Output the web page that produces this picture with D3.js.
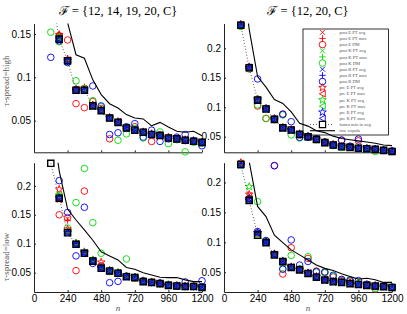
<!DOCTYPE html>
<html>
<head>
<meta charset="utf-8">
<script src="https://cdn.jsdelivr.net/npm/d3@7"></script>
<style>
  body { margin: 0; background: #fff; }
  .tick text { font-family: "Liberation Sans", Arial, sans-serif; font-size: 10px; fill: #000; }
  .domain, .tick line { stroke: #222; }
</style>
</head>
<body>
<div id="chart"></div>
<script>
// sample sizes, ticks and labels
var nValues = [120,180,240,300,360,420,480,540,600,660,720,780,840,900,960,1020,1080,1140,1200];
var xTicks = [0,240,480,720,960,1200];
var yTicksHiA = [0.05,0.1,0.15];
var yTicksRest = [0.05,0.1,0.15,0.2];
var titles = ["\u2131 = {12, 14, 19, 20, C}", "\u2131 = {12, 20, C}"];
var rowLabels = ["\u03c4-spread=high", "\u03c4-spread=low"];
var legendLabels = ["post E PT avg","post E PT max","post E DM","post K PT avg","post K PT max","post K DM",
  "post R PT avg","post R PT max","post R DM","pre E PT avg","pre E PT max","pre K PT avg","pre K PT max",
  "pre R PT avg","pre R PT max","homo min in avg","true copula"];

// ---- tau-spread high, F = {12,14,19,20,C}
var hiA_homo    = [0.200,0.144,0.119,0.085,0.085,0.067,0.0615,0.053,0.048,0.0416,0.0389,0.0366,0.034,0.0328,0.030,0.029,0.0274,0.0262,0.025];
var hiA_true    = [0.300,0.220,0.163,0.126,0.122,0.097,0.080,0.0695,0.0645,0.057,0.053,0.052,0.044,0.048,0.0427,0.0377,0.0366,0.0377,0.0327];
var hiA_ePTavg  = [0.190,0.148,0.120,0.086,0.088,0.068,0.062,0.054,0.049,0.042,0.039,0.037,0.034,0.033,0.030,0.029,0.028,0.026,0.025];
var hiA_ePTmax  = [0.210,0.150,0.122,0.087,0.089,0.069,0.063,0.054,0.049,0.043,0.040,0.037,0.035,0.033,0.031,0.029,0.028,0.027,0.025];
var hiA_eDM     = [0.175,0.148,0.143,0.0696,0.065,0.072,0.064,0.029,0.048,0.041,0.043,0.037,0.026,0.034,0.030,0.029,0.027,0.026,0.025];
var hiA_kPTavg  = [0.190,0.146,0.118,0.084,0.086,0.068,0.061,0.053,0.048,0.041,0.039,0.036,0.034,0.033,0.030,0.029,0.027,0.026,0.025];
var hiA_kPTmax  = [0.200,0.147,0.119,0.085,0.087,0.068,0.062,0.054,0.048,0.042,0.039,0.037,0.034,0.033,0.030,0.029,0.027,0.026,0.025];
var hiA_kDM     = [0.152,0.141,0.118,0.096,0.087,0.073,0.066,0.053,0.0274,0.0347,0.041,0.030,0.034,0.037,0.0235,0.028,0.014,0.025,0.024];
var hiA_rPTavg  = [0.190,0.143,0.117,0.084,0.084,0.066,0.061,0.053,0.048,0.041,0.038,0.036,0.034,0.032,0.030,0.029,0.027,0.026,0.025];
var hiA_rPTmax  = [0.200,0.145,0.118,0.085,0.085,0.067,0.062,0.053,0.048,0.042,0.039,0.037,0.034,0.033,0.030,0.029,0.027,0.026,0.025];
var hiA_rDM     = [0.123,0.142,0.117,0.086,0.085,0.090,0.067,0.034,0.036,0.043,0.0465,0.031,0.039,0.026,0.029,0.031,0.034,0.027,0.021];
var hiA_preEavg = [0.200,0.149,0.121,0.086,0.087,0.068,0.062,0.054,0.049,0.042,0.039,0.037,0.035,0.033,0.031,0.029,0.028,0.027,0.025];
var hiA_preEmax = [0.210,0.147,0.120,0.086,0.086,0.068,0.062,0.053,0.049,0.042,0.039,0.037,0.034,0.033,0.030,0.029,0.028,0.026,0.025];
var hiA_preKavg = [0.200,0.146,0.119,0.085,0.086,0.067,0.062,0.053,0.048,0.042,0.039,0.037,0.034,0.033,0.030,0.029,0.027,0.026,0.025];
var hiA_preKmax = [0.200,0.145,0.119,0.085,0.086,0.067,0.061,0.053,0.048,0.042,0.039,0.036,0.034,0.033,0.030,0.029,0.027,0.026,0.025];
var hiA_preRavg = [0.200,0.144,0.119,0.085,0.085,0.067,0.0615,0.053,0.048,0.0416,0.0389,0.0366,0.034,0.0328,0.030,0.029,0.0274,0.0262,0.025];
var hiA_preRmax = [0.200,0.144,0.119,0.085,0.085,0.067,0.061,0.053,0.048,0.042,0.039,0.0366,0.034,0.033,0.030,0.029,0.0274,0.026,0.025];

// ---- tau-spread high, F = {12,20,C}
var hiB_homo    = [0.239,0.167,0.112,0.097,0.0795,0.065,0.0614,0.054,0.050,0.0455,0.040,0.036,0.033,0.032,0.0305,0.0297,0.0285,0.0268,0.025];
var hiB_true    = [0.350,0.232,0.152,0.134,0.113,0.1065,0.092,0.0727,0.068,0.060,0.057,0.051,0.047,0.045,0.043,0.041,0.039,0.036,0.035];
var hiB_ePTavg  = [0.241,0.169,0.114,0.098,0.081,0.066,0.062,0.055,0.051,0.046,0.041,0.037,0.034,0.032,0.031,0.030,0.029,0.027,0.025];
var hiB_ePTmax  = [0.240,0.170,0.115,0.099,0.081,0.066,0.062,0.055,0.051,0.046,0.041,0.037,0.034,0.033,0.031,0.030,0.029,0.027,0.026];
var hiB_eDM     = [0.238,0.165,0.102,0.081,0.080,0.0885,0.062,0.053,0.050,0.046,0.040,0.037,0.0445,0.033,0.043,0.030,0.028,0.027,0.025];
var hiB_kPTavg  = [0.239,0.168,0.113,0.097,0.080,0.065,0.061,0.054,0.050,0.045,0.040,0.036,0.033,0.032,0.030,0.030,0.028,0.027,0.025];
var hiB_kPTmax  = [0.240,0.168,0.113,0.098,0.080,0.066,0.062,0.054,0.050,0.046,0.040,0.036,0.033,0.032,0.031,0.030,0.028,0.027,0.025];
var hiB_kDM     = [0.237,0.166,0.104,0.081,0.079,0.087,0.053,0.048,0.051,0.045,0.041,0.035,0.032,0.033,0.030,0.029,0.025,0.027,0.025];
var hiB_rPTavg  = [0.239,0.167,0.112,0.097,0.080,0.065,0.061,0.054,0.050,0.045,0.040,0.036,0.033,0.032,0.030,0.030,0.028,0.027,0.025];
var hiB_rPTmax  = [0.240,0.168,0.113,0.097,0.080,0.065,0.062,0.054,0.050,0.046,0.040,0.036,0.033,0.032,0.031,0.030,0.029,0.027,0.025];
var hiB_rDM     = [0.240,0.168,0.148,0.098,0.080,0.088,0.0755,0.049,0.049,0.046,0.041,0.036,0.044,0.034,0.046,0.030,0.029,0.027,0.026];
var hiB_preEavg = [0.241,0.168,0.114,0.098,0.081,0.066,0.062,0.055,0.051,0.046,0.041,0.037,0.034,0.033,0.031,0.030,0.029,0.027,0.026];
var hiB_preEmax = [0.240,0.168,0.113,0.098,0.080,0.066,0.062,0.054,0.050,0.046,0.040,0.036,0.033,0.032,0.031,0.030,0.029,0.027,0.025];
var hiB_preKavg = [0.240,0.167,0.113,0.097,0.080,0.065,0.061,0.054,0.050,0.045,0.040,0.036,0.033,0.032,0.030,0.030,0.028,0.027,0.025];
var hiB_preKmax = [0.239,0.167,0.112,0.097,0.080,0.065,0.061,0.054,0.050,0.045,0.040,0.036,0.033,0.032,0.030,0.030,0.028,0.027,0.025];
var hiB_preRavg = [0.239,0.167,0.112,0.097,0.0795,0.065,0.0614,0.054,0.050,0.0455,0.040,0.036,0.033,0.032,0.0305,0.0297,0.0285,0.0268,0.025];
var hiB_preRmax = [0.239,0.167,0.112,0.097,0.0795,0.065,0.061,0.054,0.050,0.0455,0.040,0.036,0.033,0.032,0.0305,0.0297,0.0285,0.0268,0.025];

// ---- tau-spread low, F = {12,14,19,20,C}
var loA_homo    = [0.239,0.1787,0.119,0.099,0.0835,0.070,0.0576,0.053,0.049,0.043,0.0415,0.0345,0.033,0.031,0.028,0.027,0.026,0.026,0.0245];
var loA_true    = [0.330,0.226,0.160,0.141,0.124,0.106,0.086,0.079,0.072,0.059,0.056,0.050,0.046,0.042,0.0415,0.0415,0.0375,0.0345,0.0345];
var loA_ePTavg  = [0.26,0.175,0.143,0.101,0.085,0.071,0.059,0.054,0.050,0.044,0.042,0.035,0.034,0.032,0.029,0.028,0.027,0.026,0.025];
var loA_ePTmax  = [0.27,0.178,0.140,0.100,0.086,0.071,0.060,0.054,0.050,0.044,0.042,0.035,0.034,0.032,0.029,0.028,0.027,0.026,0.025];
var loA_eDM     = [0.26,0.150,0.145,0.0535,0.191,0.070,0.062,0.052,0.049,0.044,0.041,0.035,0.034,0.031,0.029,0.027,0.026,0.027,0.025];
var loA_kPTavg  = [0.26,0.183,0.121,0.101,0.086,0.072,0.059,0.054,0.050,0.044,0.042,0.035,0.033,0.031,0.029,0.027,0.026,0.026,0.025];
var loA_kPTmax  = [0.27,0.182,0.122,0.100,0.085,0.073,0.058,0.054,0.050,0.044,0.042,0.035,0.033,0.031,0.029,0.027,0.026,0.026,0.025];
var loA_kDM     = [0.26,0.180,0.127,0.171,0.230,0.1365,0.0835,0.053,0.050,0.0737,0.042,0.035,0.033,0.031,0.029,0.027,0.026,0.026,0.025];
var loA_rPTavg  = [0.26,0.180,0.120,0.100,0.084,0.070,0.058,0.053,0.049,0.043,0.042,0.035,0.033,0.031,0.028,0.027,0.026,0.026,0.025];
var loA_rPTmax  = [0.27,0.181,0.121,0.100,0.085,0.071,0.059,0.054,0.050,0.044,0.042,0.035,0.033,0.031,0.029,0.027,0.026,0.026,0.025];
var loA_rDM     = [0.26,0.209,0.154,0.079,0.163,0.066,0.060,0.0327,0.035,0.044,0.042,0.036,0.033,0.032,0.028,0.027,0.034,0.026,0.036];
var loA_preEavg = [0.26,0.194,0.125,0.101,0.086,0.072,0.068,0.054,0.050,0.044,0.042,0.036,0.034,0.032,0.029,0.028,0.027,0.027,0.025];
var loA_preEmax = [0.26,0.176,0.122,0.100,0.085,0.071,0.060,0.054,0.050,0.044,0.042,0.035,0.034,0.031,0.029,0.028,0.027,0.026,0.025];
var loA_preKavg = [0.26,0.184,0.121,0.101,0.085,0.072,0.059,0.054,0.050,0.044,0.042,0.035,0.033,0.031,0.029,0.027,0.026,0.026,0.025];
var loA_preKmax = [0.26,0.179,0.120,0.100,0.084,0.071,0.058,0.053,0.049,0.043,0.042,0.035,0.033,0.031,0.028,0.027,0.026,0.026,0.025];
var loA_preRavg = [0.26,0.179,0.119,0.099,0.084,0.070,0.058,0.053,0.049,0.043,0.0415,0.0345,0.033,0.031,0.028,0.027,0.026,0.026,0.0245];
var loA_preRmax = [0.26,0.1787,0.119,0.099,0.0835,0.070,0.0576,0.053,0.049,0.043,0.0415,0.0345,0.033,0.031,0.028,0.027,0.026,0.026,0.0245];

// ---- tau-spread low, F = {12,20,C}
var loB_homo    = [0.230,0.170,0.112,0.0995,0.079,0.0678,0.058,0.054,0.048,0.0417,0.037,0.034,0.033,0.031,0.0295,0.028,0.027,0.026,0.0245];
var loB_true    = [0.350,0.235,0.160,0.143,0.112,0.0995,0.0873,0.079,0.0705,0.062,0.0565,0.053,0.0475,0.043,0.0385,0.040,0.0375,0.033,0.033];
var loB_ePTavg  = [0.232,0.180,0.117,0.101,0.080,0.069,0.059,0.055,0.049,0.042,0.038,0.035,0.034,0.032,0.030,0.029,0.028,0.027,0.025];
var loB_ePTmax  = [0.233,0.176,0.116,0.101,0.081,0.069,0.059,0.055,0.049,0.043,0.038,0.035,0.034,0.032,0.030,0.029,0.028,0.027,0.025];
var loB_eDM     = [0.232,0.172,0.115,0.100,0.228,0.047,0.091,0.055,0.073,0.052,0.050,0.042,0.036,0.035,0.030,0.029,0.022,0.027,0.024];
var loB_kPTavg  = [0.231,0.175,0.114,0.100,0.080,0.068,0.059,0.054,0.049,0.042,0.038,0.035,0.033,0.031,0.030,0.028,0.027,0.026,0.025];
var loB_kPTmax  = [0.231,0.174,0.115,0.101,0.080,0.068,0.059,0.054,0.049,0.042,0.038,0.035,0.033,0.031,0.030,0.028,0.027,0.026,0.025];
var loB_kDM     = [0.229,0.171,0.168,0.102,0.080,0.056,0.078,0.056,0.076,0.050,0.049,0.043,0.038,0.036,0.031,0.029,0.023,0.026,0.025];
var loB_rPTavg  = [0.230,0.172,0.116,0.100,0.080,0.068,0.058,0.054,0.048,0.042,0.037,0.034,0.033,0.031,0.030,0.028,0.027,0.026,0.025];
var loB_rPTmax  = [0.230,0.173,0.117,0.101,0.080,0.068,0.059,0.054,0.049,0.042,0.038,0.035,0.033,0.031,0.030,0.028,0.027,0.026,0.025];
var loB_rDM     = [0.231,0.173,0.118,0.103,0.228,0.055,0.104,0.062,0.068,0.051,0.0505,0.045,0.038,0.037,0.036,0.030,0.026,0.027,0.025];
var loB_preEavg = [0.233,0.180,0.116,0.101,0.081,0.069,0.059,0.055,0.049,0.043,0.038,0.035,0.034,0.032,0.030,0.029,0.028,0.027,0.025];
var loB_preEmax = [0.232,0.174,0.115,0.100,0.080,0.068,0.059,0.054,0.049,0.042,0.038,0.035,0.033,0.031,0.030,0.028,0.027,0.026,0.025];
var loB_preKavg = [0.231,0.193,0.115,0.100,0.080,0.068,0.058,0.054,0.048,0.042,0.037,0.034,0.033,0.031,0.030,0.028,0.027,0.026,0.025];
var loB_preKmax = [0.230,0.172,0.114,0.100,0.079,0.068,0.058,0.054,0.048,0.042,0.037,0.034,0.033,0.031,0.0295,0.028,0.027,0.026,0.025];
var loB_preRavg = [0.229,0.172,0.116,0.101,0.080,0.068,0.058,0.054,0.048,0.0417,0.037,0.034,0.033,0.031,0.0295,0.028,0.027,0.026,0.0245];
var loB_preRmax = [0.230,0.171,0.115,0.100,0.079,0.0678,0.058,0.054,0.048,0.0417,0.037,0.034,0.033,0.031,0.0295,0.028,0.027,0.026,0.0245];

// marker style for each legend entry (same order as the series lists below)
var styles = [
  {c:"#f00", m:"x"}, {c:"#f00", m:"+"}, {c:"#f00", m:"o"},
  {c:"#0d0", m:"x"}, {c:"#0d0", m:"+"}, {c:"#0d0", m:"o"},
  {c:"#00f", m:"x"}, {c:"#00f", m:"+"}, {c:"#00f", m:"o"},
  {c:"#f00", m:"p"}, {c:"#f00", m:"<"},
  {c:"#0d0", m:"p"}, {c:"#0d0", m:"<"},
  {c:"#00f", m:"p"}, {c:"#00f", m:"<"}
];

var panels = [
  {series:[hiA_ePTavg,hiA_ePTmax,hiA_eDM,hiA_kPTavg,hiA_kPTmax,hiA_kDM,hiA_rPTavg,hiA_rPTmax,hiA_rDM,
           hiA_preEavg,hiA_preEmax,hiA_preKavg,hiA_preKmax,hiA_preRavg,hiA_preRmax],
   homo:hiA_homo, truth:hiA_true, xr:[34,202], yr:[23.5,152.3], yd:[0.0135,0.162], yt:yTicksHiA, labels:false},
  {series:[hiB_ePTavg,hiB_ePTmax,hiB_eDM,hiB_kPTavg,hiB_kPTmax,hiB_kDM,hiB_rPTavg,hiB_rPTmax,hiB_rDM,
           hiB_preEavg,hiB_preEmax,hiB_preKavg,hiB_preKmax,hiB_preRavg,hiB_preRmax],
   homo:hiB_homo, truth:hiB_true, xr:[224,392], yr:[23.5,152.3], yd:[0.0236,0.242], yt:yTicksRest, labels:false},
  {series:[loA_ePTavg,loA_ePTmax,loA_eDM,loA_kPTavg,loA_kPTmax,loA_kDM,loA_rPTavg,loA_rPTmax,loA_rDM,
           loA_preEavg,loA_preEmax,loA_preKavg,loA_preKmax,loA_preRavg,loA_preRmax],
   homo:loA_homo, truth:loA_true, xr:[34,202], yr:[162.7,292], yd:[0.0166,0.240], yt:yTicksRest, labels:true},
  {series:[loB_ePTavg,loB_ePTmax,loB_eDM,loB_kPTavg,loB_kPTmax,loB_kDM,loB_rPTavg,loB_rPTmax,loB_rDM,
           loB_preEavg,loB_preEmax,loB_preKavg,loB_preKmax,loB_preRavg,loB_preRmax],
   homo:loB_homo, truth:loB_true, xr:[224,392], yr:[162.7,292], yd:[0.017,0.233], yt:yTicksRest, labels:true}
];

// marker outlines, like matlab's x + o p < s
function markerPath(m) {
  if (m == "x") return "M-2.5,-2.5L2.5,2.5M-2.5,2.5L2.5,-2.5";
  if (m == "+") return "M-3.2,0L3.2,0M0,-3.2L0,3.2";
  if (m == "o") return "M3.3,0A3.3,3.3 0 1,1 -3.3,0A3.3,3.3 0 1,1 3.3,0Z";
  if (m == "<") return "M-3.2,0L2.8,-3.2L2.8,3.2Z";
  if (m == "s") return "M-3.1,-3.1H3.1V3.1H-3.1Z";
  // pentagram
  var pts = [];
  for (var i = 0; i < 10; i++) {
    var r = i % 2 ? 1.6 : 4.0, a = -Math.PI / 2 + i * Math.PI / 5;
    pts.push((r * Math.cos(a)).toFixed(2) + "," + (r * Math.sin(a)).toFixed(2));
  }
  return "M" + pts.join("L") + "Z";
}

var svg = d3.select("#chart").append("svg")
    .attr("width", 407)
    .attr("height", 314);

panels.forEach(function(p, i) {
  var x = d3.scaleLinear().domain([0, 1200]).range(p.xr);
  var y = d3.scaleLinear().domain(p.yd).range([p.yr[1], p.yr[0]]);
  var g = svg.append("g");

  svg.append("clipPath").attr("id", "clip" + i)
    .append("rect")
      .attr("x", p.xr[0]).attr("y", p.yr[0])
      .attr("width", p.xr[1] - p.xr[0] + 6).attr("height", p.yr[1] - p.yr[0]);

  // axes, ticks pointing inwards
  g.append("g")
      .attr("transform", "translate(0," + p.yr[1] + ")")
      .call(d3.axisBottom(x).tickValues(xTicks).tickSizeInner(-2).tickSizeOuter(0).tickPadding(3)
        .tickFormat(p.labels ? d3.format("d") : ""));
  g.append("g")
      .attr("transform", "translate(" + p.xr[0] + ",0)")
      .call(d3.axisLeft(y).tickValues(p.yt).tickSizeInner(-2).tickSizeOuter(0).tickPadding(3)
        .tickFormat(function(d) { return String(d); }));

  function inside(v) { return v >= p.yd[0] && v <= p.yd[1]; }

  // the 15 marker series
  p.series.forEach(function(arr, j) {
    var st = styles[j];
    g.selectAll(".m" + j)
        .data(nValues.map(function(n, k) { return [n, arr[k]]; }).filter(function(d) { return inside(d[1]); }))
      .enter().append("path")
        .attr("d", markerPath(st.m))
        .attr("transform", function(d) { return "translate(" + x(d[0]) + "," + y(d[1]) + ")"; })
        .attr("fill", "none")
        .attr("stroke", st.c)
        .attr("stroke-width", 0.9);
  });

  var line = d3.line().x(function(d) { return x(d[0]); }).y(function(d) { return y(d[1]); });

  // homo min in avg: dotted line with squares
  var homo = nValues.map(function(n, k) { return [n, p.homo[k]]; });
  g.append("path")
      .attr("d", line(homo))
      .attr("clip-path", "url(#clip" + i + ")")
      .attr("fill", "none")
      .attr("stroke", "#333")
      .attr("stroke-width", 0.8)
      .attr("stroke-dasharray", "1,2");
  g.selectAll(".sq")
      .data(homo.filter(function(d) { return inside(d[1]); }))
    .enter().append("path")
      .attr("d", markerPath("s"))
      .attr("transform", function(d) { return "translate(" + x(d[0]) + "," + y(d[1]) + ")"; })
      .attr("fill", "none")
      .attr("stroke", "#000")
      .attr("stroke-width", 1.4);

  // true copula
  g.append("path")
      .attr("d", line(nValues.map(function(n, k) { return [n, p.truth[k]]; })))
      .attr("clip-path", "url(#clip" + i + ")")
      .attr("fill", "none")
      .attr("stroke", "#000")
      .attr("stroke-width", 1.1);
});

// titles and axis labels
svg.selectAll(".title")
    .data(titles)
  .enter().append("text")
    .attr("x", function(d, i) { return i ? 308 : 118; })
    .attr("y", 15)
    .attr("text-anchor", "middle")
    .style("font-family", "'Liberation Serif', 'DejaVu Serif', serif")
    .style("font-size", "12.5px")
    .text(function(d) { return d; });

svg.selectAll(".rowlab")
    .data(rowLabels)
  .enter().append("text")
    .attr("transform", function(d, i) { return "translate(6," + (i ? 257 : 81) + ") rotate(-90)"; })
    .attr("text-anchor", "middle")
    .attr("dominant-baseline", "central")
    .style("font-family", "'Liberation Serif', serif")
    .style("font-size", "9px")
    .style("fill", "#555")
    .text(function(d) { return d; });

[118, 308].forEach(function(cx) {
  svg.append("text")
      .attr("x", cx).attr("y", 310.5)
      .attr("text-anchor", "middle")
      .style("font-family", "'Liberation Serif', serif")
      .style("font-style", "italic")
      .style("font-size", "9px")
      .style("fill", "#555")
      .text("n");
});

// legend
var leg = svg.append("g");
leg.append("rect")
    .attr("x", 303).attr("y", 29)
    .attr("width", 85.5).attr("height", 106)
    .attr("fill", "none")
    .attr("stroke", "#000")
    .attr("stroke-width", 0.8);

legendLabels.forEach(function(lab, r) {
  var ly = 32.3 + r * 6.15;
  if (r < 15) {
    leg.append("path")
        .attr("d", markerPath(styles[r].m))
        .attr("transform", "translate(322.5," + ly + ")")
        .attr("fill", "none")
        .attr("stroke", styles[r].c)
        .attr("stroke-width", 0.9);
  } else if (r == 15) {
    leg.append("line").attr("x1", 310).attr("x2", 334).attr("y1", ly).attr("y2", ly)
        .attr("stroke", "#333").attr("stroke-width", 0.8).attr("stroke-dasharray", "1,2");
    leg.append("path").attr("d", markerPath("s"))
        .attr("transform", "translate(322.5," + ly + ")")
        .attr("fill", "#fff").attr("stroke", "#000").attr("stroke-width", 1.2);
  } else {
    leg.append("line").attr("x1", 310).attr("x2", 335).attr("y1", ly).attr("y2", ly)
        .attr("stroke", "#000").attr("stroke-width", 1.1);
  }
  leg.append("text")
      .attr("x", 339.5).attr("y", ly + 1.6)
      .style("font-family", "'Liberation Serif', serif")
      .style("font-size", "4.6px")
      .style("fill", "#555")
      .text(lab);
});
</script>
</body>
</html>
